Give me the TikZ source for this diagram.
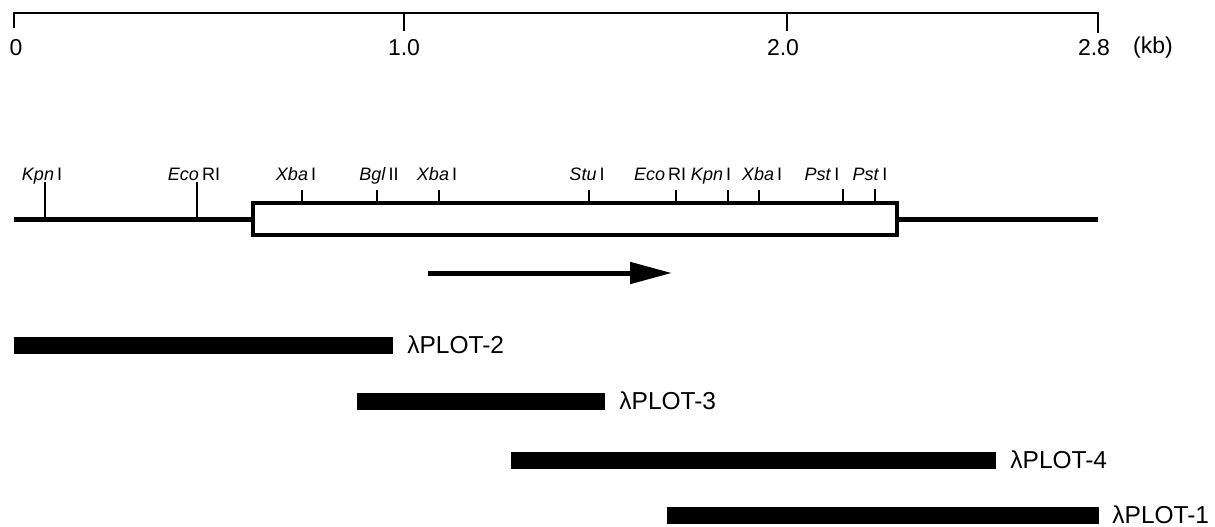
\documentclass[tikz,border=0pt]{standalone}
\usepackage{fontspec}
\setmainfont{Liberation Sans}
\usetikzlibrary{arrows.meta}

\begin{document}
\begin{tikzpicture}[x=1pt,y=-1pt,
  scaleline/.style={line width=2.5pt},
  scalelabel/.style={font=\fontsize{23}{23}\selectfont, inner sep=0pt, anchor=center},
  sitelabel/.style={font=\fontsize{18}{18}\selectfont, inner sep=0pt, anchor=base},
  dna/.style={line width=5pt},
  genebox/.style={draw, line width=4pt, minimum width=644pt, minimum height=32pt, inner sep=0pt},
  cutmark/.style={line width=2.5pt},
  clone/.style={fill=black, draw=none, minimum height=17pt, inner sep=0pt},
  clonelabel/.style={font=\fontsize{24.5}{24.5}\selectfont, anchor=base west, inner sep=0pt},
  orf/.style={line width=5pt, -{Triangle[length=42pt,width=21pt]}}
]
\useasboundingbox (0,0) rectangle (1215,527);

% ---- kilobase scale ----
\coordinate (k0) at (14,13);
\coordinate (k1) at (404,13);
\coordinate (k2) at (787,13);
\coordinate (k3) at (1098,13);
\draw[scaleline, line join=miter] ([yshift=-15pt]k0) -- (k0) -- (k3) -- ([yshift=-20pt]k3);
\draw[scaleline] (k1) -- ([yshift=-18pt]k1);
\draw[scaleline] (k2) -- ([yshift=-18pt]k2);
\node[scalelabel] (l0) at (16,48) {0};
\node[scalelabel] (l1) at (404,48) {1.0};
\node[scalelabel] (l2) at (783,48) {2.0};
\node[scalelabel] (l3) at (1094,48) {2.8};
\node[scalelabel] (lkb) at (1153,48) {(kb)};

% ---- restriction map ----
\node[genebox] (gene) at (575,219) {};
\coordinate (dnaL) at (14,219);
\coordinate (dnaR) at (1098,219);
\draw[dna] (dnaL) -- (gene.west);
\draw[dna] (gene.east) -- (dnaR);

% sites outside the box (long marks down to the line)
\foreach \x in {45,197} \draw[cutmark] (\x,182) -- (\x,219);
% sites on the box
\foreach \x in {302,377,439,589,676,728,759} \draw[cutmark] (\x,190) -- (\x,203);
\foreach \x in {843,875} \draw[cutmark] (\x,189) -- (\x,203);

% site names
\node[sitelabel] (s1) at (42,180) {\textit{Kpn}\,I};
\node[sitelabel] (s2) at (194,180) {\textit{Eco}\,RI};
\node[sitelabel] (s3) at (296,180) {\textit{Xba}\,I};
\node[sitelabel] (s4) at (379,180) {\textit{Bgl}\,II};
\node[sitelabel] (s5) at (437,180) {\textit{Xba}\,I};
\node[sitelabel] (s6) at (587,180) {\textit{Stu}\,I};
\node[sitelabel] (s7) at (660,180) {\textit{Eco}\,RI};
\node[sitelabel] (s8) at (711,180) {\textit{Kpn}\,I};
\node[sitelabel] (s9) at (762,180) {\textit{Xba}\,I};
\node[sitelabel] (s10) at (822,180) {\textit{Pst}\,I};
\node[sitelabel] (s11) at (870,180) {\textit{Pst}\,I};

% direction of transcription
\coordinate (a0) at (428,273);
\coordinate (a1) at (672,273);
\draw[orf] (a0) -- (a1);

% ---- cDNA clones ----
\node[clone, minimum width=379pt] (p2) at (203.5,345) {};
\node[clone, minimum width=248pt] (p3) at (481,401) {};
\node[clone, minimum width=485pt] (p4) at (753.5,460) {};
\node[clone, minimum width=432pt] (p1) at (883,515) {};
\node[clonelabel] (t2) at ([xshift=14pt,yshift=-8.5pt]p2.east) {λPLOT-2};
\node[clonelabel] (t3) at ([xshift=14pt,yshift=-8.5pt]p3.east) {λPLOT-3};
\node[clonelabel] (t4) at ([xshift=14pt,yshift=-8.5pt]p4.east) {λPLOT-4};
\node[clonelabel] (t1) at ([xshift=13pt,yshift=-8.5pt]p1.east) {λPLOT-1};
\end{tikzpicture}
\end{document}
